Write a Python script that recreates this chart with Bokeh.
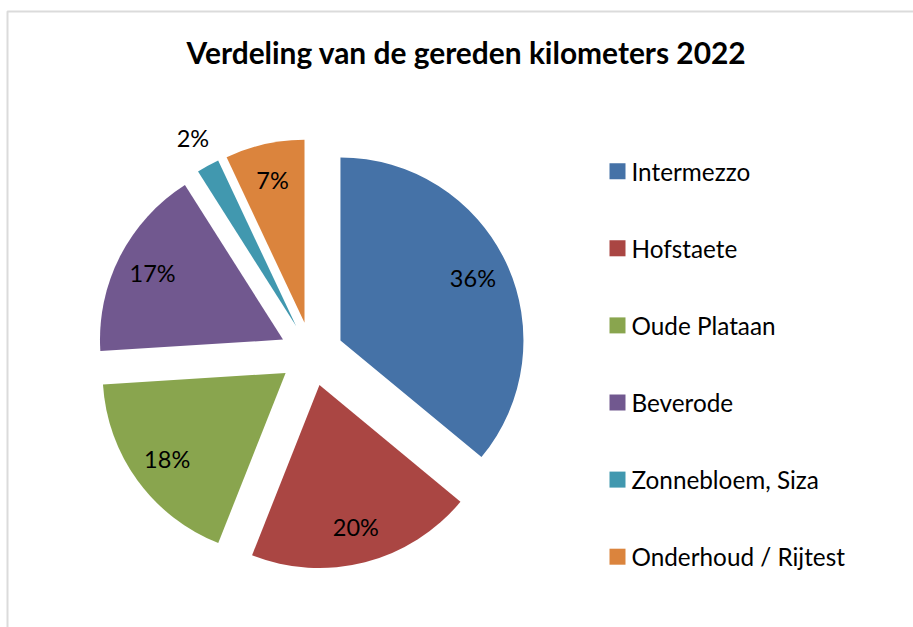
import numpy as np
from bokeh.plotting import figure
from bokeh.models import Range1d, Label, BoxAnnotation, ColumnDataSource
from bokeh.core.properties import value
from bokeh.embed import file_html
from bokeh.resources import INLINE

# ---- data ----
title_text = "Verdeling van de gereden kilometers 2022"
categories = ["Intermezzo", "Hofstaete", "Oude Plataan", "Beverode",
              "Zonnebloem, Siza", "Onderhoud / Rijtest"]
percentages = [36, 20, 18, 17, 2, 7]
colors = ["#4572A7", "#AA4643", "#89A54E", "#71588F", "#4198AF", "#DB843D"]

# ---- layout ----
W, H = 913, 627
cx, cy = 311.0, H - 353.6
radius = 183.0
explode = 32.0
FONT = "Lato"

p = figure(width=W, height=H, output_backend="svg", toolbar_location=None,
           x_range=Range1d(0, W), y_range=Range1d(0, H), min_border=0)
p.axis.visible = False
p.grid.visible = False
p.outline_line_color = None
p.background_fill_color = "white"
p.border_fill_color = "white"

frac = np.array(percentages, dtype=float) / sum(percentages)
cum = np.concatenate([[0.0], np.cumsum(frac)])
t1 = cum[:-1] * 2 * np.pi
t2 = cum[1:] * 2 * np.pi
mid = (t1 + t2) / 2
xs = cx + explode * np.sin(mid)
ys = cy + explode * np.cos(mid)

src = ColumnDataSource(dict(x=xs, y=ys, start=np.pi / 2 - t2, end=np.pi / 2 - t1,
                            color=colors, cat=categories))
p.wedge(x="x", y="y", radius=radius, start_angle="start", end_angle="end",
        direction="anticlock", fill_color="color", line_color=None, source=src)

# percentage labels
lab_r = np.where(frac < 0.05, 1.17, 0.80) * radius
lx = xs + lab_r * np.sin(mid)
ly = ys + lab_r * np.cos(mid)
lsrc = ColumnDataSource(dict(x=lx, y=ly, t=[f"{v}%" for v in percentages]))
p.text(x="x", y="y", text="t", source=lsrc, text_align="center",
       text_baseline="middle", text_font=value(FONT), text_font_size="23.5px",
       text_color="black")

# legend
idx = np.arange(len(categories))
leg_y = H - (170.7 + 77.1 * idx)
gsrc = ColumnDataSource(dict(y=leg_y, color=colors, cat=categories))
p.rect(x=617, y="y", width=16, height=16, fill_color="color", line_color=None,
       source=gsrc)
p.text(x=631, y="y", text="cat", source=gsrc, text_align="left",
       text_baseline="middle", text_font=value(FONT), text_font_size="24.3px",
       text_color="black")

# title
p.add_layout(Label(x=466, y=H - 51, text=title_text, text_align="center",
                   text_baseline="middle", text_font=FONT, text_font_style="bold",
                   text_font_size="29.9px", text_color="black"))

# chart frame
p.add_layout(BoxAnnotation(left=7, right=W + 50, top=H - 11, bottom=-50,
                           fill_alpha=0, line_color="#878787", line_width=2))

open("out.html", "w").write(file_html(p, INLINE))
